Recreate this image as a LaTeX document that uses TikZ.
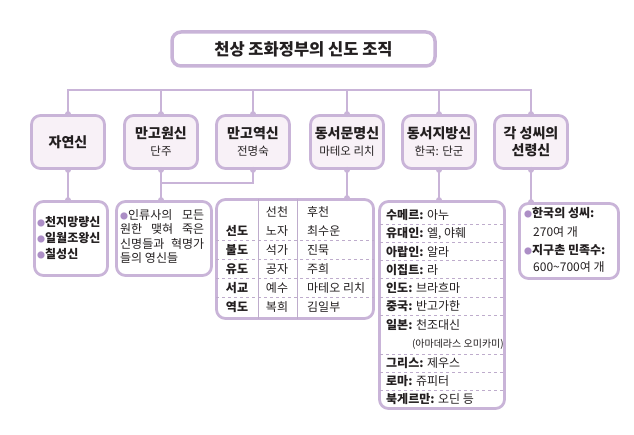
\documentclass[tikz,border=0pt]{standalone}
\usepackage{fontspec}
\setmainfont{Noto Sans CJK KR}
\definecolor{lav}{RGB}{201,180,216}
\definecolor{lavfill}{RGB}{248,241,247}
\definecolor{lavdot}{RGB}{172,142,198}
\definecolor{lavgrid}{RGB}{190,172,204}
\definecolor{ink}{RGB}{35,31,32}
\newcommand{\bul}{{\color{lavdot}\fontsize{8}{8}\selectfont ●}}
\begin{document}
\begin{tikzpicture}[x=1pt, y=-1pt, text=ink, font=\fontsize{12}{14}\selectfont,
    conn/.style={draw=lav, line width=2pt},
    titlebox/.style={draw=lav, line width=3.5pt, rounded corners=9pt, fill=white, minimum width=263pt, minimum height=34pt, font=\fontsize{16.5}{18}\selectfont\bfseries},
    topbox/.style={draw=lav, line width=2.8pt, rounded corners=9pt, fill=lavfill, minimum width=73pt, minimum height=53pt, align=center, font=\fontsize{14}{17}\selectfont\bfseries},
    listbox/.style={draw=lav, line width=2.8pt, rounded corners=9pt, fill=white},
    row/.style={anchor=base west, inner sep=0pt},
    cell/.style={anchor=base, inner sep=0pt},
    sep/.style={draw=lavgrid, line width=0.8pt, dashed},
    grid/.style={draw=lavgrid, line width=1pt}]
    \useasboundingbox (0,0) rectangle (634,435);

    \node[titlebox] (title) at (303.5, 49) {천상 조화정부의 신도 조직};

    \node[topbox] (n1) at (68, 142) {자연신};
    \node[topbox] (n2) at (161, 142) {만고원신\\{\fontsize{11.5}{12}\selectfont\mdseries 단주}};
    \node[topbox] (n3) at (253, 142) {만고역신\\{\fontsize{11.5}{12}\selectfont\mdseries 전명숙}};
    \node[topbox] (n4) at (347, 142) {동서문명신\\{\fontsize{11.5}{12}\selectfont\mdseries 마테오 리치}};
    \node[topbox] (n5) at (439, 142) {동서지방신\\{\fontsize{11.5}{12}\selectfont\mdseries 한국: 단군}};
    \node[topbox] (n6) at (531, 142) {각 성씨의\\선령신};

    \node[listbox, minimum width=73pt, minimum height=74pt] (l1) at (71, 238.5) {};
    \node[listbox, minimum width=95pt, minimum height=74pt] (l2) at (164, 238.5) {};
    \node[listbox, minimum width=157pt, minimum height=119pt] (tb) at (295, 259) {};
    \node[listbox, minimum width=125pt, minimum height=207pt] (l4) at (442, 305) {};
    \node[listbox, minimum width=99pt, minimum height=75pt] (l5) at (569, 241) {};

    % bus from the top boxes
    \draw[conn] (n1.north) -- ++(0,-24) -| (n6.north);
    \foreach \n in {n2,n3,n4,n5}
        \draw[conn] (\n.north) -- ++(0,-24);

    \draw[conn] (n1.south) -- (n1.south |- l1.north);
    \draw[conn] (n2.south) -- ++(0,13) coordinate (mg) -| (n3.south);
    \draw[conn] (mg) -- (mg |- l2.north);
    \draw[conn] (n4.south) -- (n4.south |- tb.north);
    \draw[conn] (n5.south) -- (n5.south |- l4.north);
    \draw[conn] (n6.south) -- (n6.south |- l5.north);

    \foreach \n in {n1,n2,n3,n4,n5,n6}
        \fill[lav] (\n.north) circle (3pt) (\n.south) circle (3pt);
    \fill[lav] (n1.south |- l1.north) circle (3pt) (mg |- l2.north) circle (3pt)
        (n4.south |- tb.north) circle (3pt) (n5.south |- l4.north) circle (3pt)
        (n6.south |- l5.north) circle (3pt);

    % 자연신
    \node[row, font=\fontsize{12}{14}\selectfont\bfseries] (a1) at (37, 226.5) {\bul 천지망량신};
    \node[row, font=\fontsize{12}{14}\selectfont\bfseries] (a2) at (37, 242.5) {\bul 일월조왕신};
    \node[row, font=\fontsize{12}{14}\selectfont\bfseries] (a3) at (37, 258.5) {\bul 칠성신};

    % 만고원신, 만고역신
    \node[anchor=north west, align=left, inner sep=0pt, font=\fontsize{12}{14.5}\selectfont] (b1) at (120, 209)
        {\makebox[84pt][s]{\bul 인류사의 모든}\\\makebox[84pt][s]{원한 맺혀 죽은}\\\makebox[84pt][s]{신명들과 혁명가}\\들의 영신들};

    % 동서문명신
    \draw[grid] (258, 199) -- (258, 319);
    \draw[grid] (297, 199) -- (297, 319);
    \node[cell] (h1) at (277, 216.5) {선천};
    \node[row] (h2) at (307, 216.5) {후천};
    \foreach \a/\b/\c [count=\i] in {선도/노자/최수운, 불도/석가/진묵, 유도/공자/주희, 서교/예수/마테오 리치, 역도/복희/김일부} {
        \node[cell, font=\fontsize{12}{14}\selectfont\bfseries] (ta\i) at (237, {216.5+19*\i}) {\a};
        \node[cell] (tb\i) at (277, {216.5+19*\i}) {\b};
        \node[row] (tc\i) at (307, {216.5+19*\i}) {\c};
    }
    \foreach \i in {1,...,4}
        \draw[sep] (216, {221.5+19*\i}) -- (374, {221.5+19*\i});

    % 동서지방신
    \foreach \a/\b [count=\i] in {수메르/아누, 유대인/{엘, 야훼}, 아랍인/알라, 이집트/라, 인도/브라흐마, 중국/반고가한, 일본/천조대신}
        \node[row] (d\i) at (386, {219.5+18.3*(\i-1)}) {\textbf{\a:} \b};
    \node[anchor=base east, inner sep=0pt, font=\fontsize{10}{12}\selectfont] (dp) at (504, 348) {(아마데라스 오미카미)};
    \foreach \a/\b [count=\i] in {그리스/제우스, 로마/쥬피터, 북게르만/오딘 등}
        \node[row] (e\i) at (386, {367.5+18*(\i-1)}) {\textbf{\a:} \b};
    \foreach \i in {1,...,6}
        \draw[sep] (380, {224+18.3*(\i-1)}) -- (504, {224+18.3*(\i-1)});
    \foreach \y in {354, 372, 390}
        \draw[sep] (380, \y) -- (504, \y);

    % 각 성씨의 선령신
    \node[row, font=\fontsize{12}{14}\selectfont\bfseries] (f1) at (524, 217.5) {\bul 한국의 성씨:};
    \node[row] (f2) at (533, 236.5) {270여 개};
    \node[row, font=\fontsize{12}{14}\selectfont\bfseries] (f3) at (524, 254.5) {\bul 지구촌 민족수:};
    \node[row] (f4) at (533, 271.5) {600\textasciitilde 700여 개};
\end{tikzpicture}
\end{document}
